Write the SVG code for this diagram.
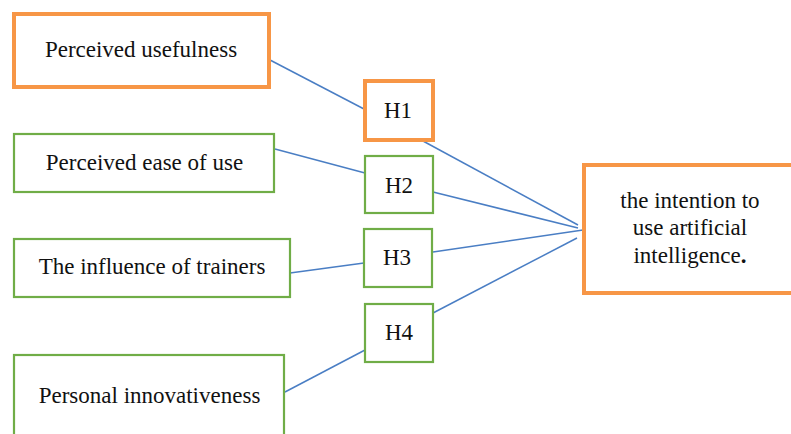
<svg xmlns="http://www.w3.org/2000/svg" width="791" height="434" viewBox="0 0 791 434">
<style>
.o{fill:#fff;stroke:#F79646;stroke-width:4}
.g{fill:#fff;stroke:#70AD47;stroke-width:2.2}
.t{font-family:'Liberation Serif','Times New Roman',serif;font-size:23px;fill:#111;text-anchor:middle}
.c line{stroke:#4A7EC4;stroke-width:1.5}
</style>
<rect width="791" height="434" fill="#fff"/>
<g class="c" id="connectors">
<line x1="270" y1="60" x2="364" y2="109"/>
<line x1="275" y1="149" x2="365" y2="173"/>
<line x1="290" y1="273" x2="364" y2="263"/>
<line x1="285" y1="392" x2="365" y2="350"/>
<line x1="423" y1="141" x2="578" y2="225"/>
<line x1="433" y1="192" x2="578" y2="228"/>
<line x1="433" y1="252" x2="583" y2="230"/>
<line x1="433" y1="313" x2="577" y2="238"/>
</g>
<g id="n1"><rect class="o" x="14" y="14" width="255" height="73"/><text class="t" x="141" y="57">Perceived usefulness</text></g>
<g id="n2"><rect class="g" x="14" y="134" width="260" height="58"/><text class="t" x="144.5" y="170">Perceived ease of use</text></g>
<g id="n3"><rect class="g" x="14" y="239" width="276" height="58"/><text class="t" x="152" y="274">The influence of trainers</text></g>
<g id="n4"><rect class="g" x="14" y="355" width="270" height="100"/><text class="t" x="149.5" y="403">Personal innovativeness</text></g>
<g id="h1"><rect class="o" x="365" y="81" width="68" height="59"/><text class="t" x="398" y="118">H1</text></g>
<g id="h2"><rect class="g" x="365" y="156" width="68" height="57"/><text class="t" x="399" y="193">H2</text></g>
<g id="h3"><rect class="g" x="364" y="229" width="68" height="58"/><text class="t" x="397" y="265">H3</text></g>
<g id="h4"><rect class="g" x="365" y="304" width="68" height="58"/><text class="t" x="399" y="340">H4</text></g>
<g id="target"><rect class="o" x="584" y="165" width="220" height="128"/>
<text class="t" x="690" y="208">the intention to</text>
<text class="t" x="690" y="235">use artificial</text>
<text class="t" x="690" y="263">intelligence<tspan font-weight="bold">.</tspan></text></g>
</svg>
